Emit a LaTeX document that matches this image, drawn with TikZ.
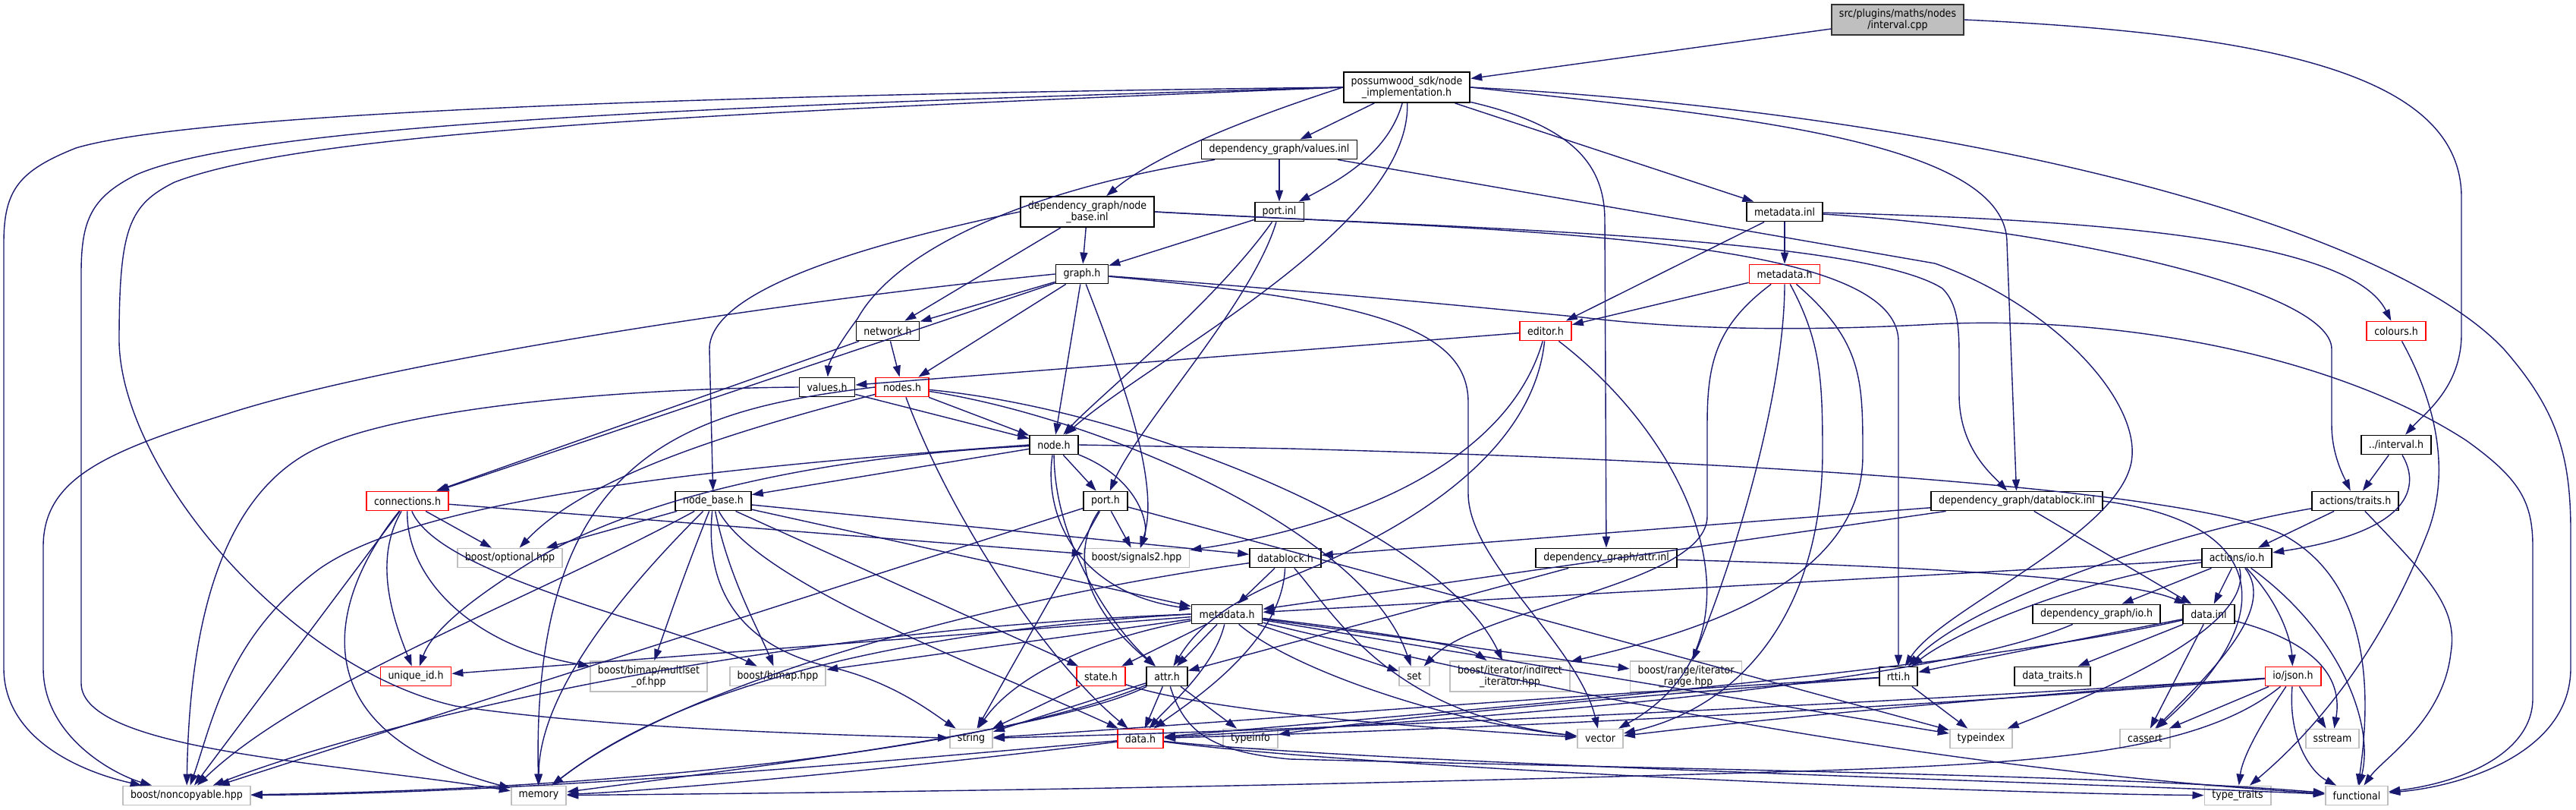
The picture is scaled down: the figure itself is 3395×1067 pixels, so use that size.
\documentclass[tikz,border=0pt]{standalone}
\usepackage{fontspec}
\setmainfont{DejaVu Sans Condensed}
\usepackage{tikz}
\usetikzlibrary{arrows.meta}
\definecolor{edgeblue}{RGB}{25,25,112}
\definecolor{sysgray}{RGB}{191,191,191}
\definecolor{hdrred}{RGB}{255,0,0}
\tikzset{
  file/.style={rectangle, draw=black, fill=white, line width=1.8pt,
    inner xsep=10pt, inner ysep=3pt, minimum height=25pt, align=center,
    font=\fontsize{14}{15}\selectfont},
  redfile/.style={file, draw=hdrred},
  sysfile/.style={file, draw=sysgray},
  rootfile/.style={file, fill=sysgray, draw=black!80},
  tall/.style={minimum height=40pt},
  dep/.style={draw=edgeblue, line width=1.4pt, -{Triangle[length=15pt,width=10pt]}}
}

\begin{document}
\begin{tikzpicture}[x=1pt, y=-1pt]
  \useasboundingbox (0,0) rectangle (3395,1067);

  % Files of the project
  \node[rootfile, tall] (root) at (2501,26) {src/plugins/maths/nodes\\/interval.cpp};
  \node[file, tall] (nimpl) at (1854,115) {possumwood\_sdk/node\\\_implementation.h};
  \node[file] (valinl) at (1686,197) {dependency\_graph/values.inl};
  \node[file, tall] (nbinl) at (1433,279) {dependency\_graph/node\\\_base.inl};
  \node[file] (portinl) at (1686,279) {port.inl};
  \node[file] (mdinl) at (2352,279) {metadata.inl};
  \node[file] (graph) at (1426,361) {graph.h};
  \node[redfile] (mdred) at (2352,361) {metadata.h};
  \node[file] (network) at (1170,436) {network.h};
  \node[redfile] (editor) at (2037,436) {editor.h};
  \node[redfile] (colours) at (3158,436) {colours.h};
  \node[file] (values) at (1090,510) {values.h};
  \node[redfile] (nodes) at (1189,510) {nodes.h};
  \node[file] (node) at (1389,586) {node.h};
  \node[file] (interval) at (3158,586) {../interval.h};
  \node[redfile] (connections) at (537,660) {connections.h};
  \node[file] (nodebase) at (940,660) {node\_base.h};
  \node[file] (port) at (1457,660) {port.h};
  \node[file] (dbinl) at (2658,660) {dependency\_graph/datablock.inl};
  \node[file] (traits) at (3104,660) {actions/traits.h};
  \node[file] (datablock) at (1694,735) {datablock.h};
  \node[file] (attrinl) at (2117,735) {dependency\_graph/attr.inl};
  \node[file] (actio) at (2948,735) {actions/io.h};
  \node[file] (metadata) at (1617,809) {metadata.h};
  \node[file] (dgio) at (2763,809) {dependency\_graph/io.h};
  \node[file] (datainl) at (2911,809) {data.inl};
  \node[redfile] (uniqueid) at (548,891) {unique\_id.h};
  \node[redfile] (state) at (1451,891) {state.h};
  \node[file] (attr) at (1538,891) {attr.h};
  \node[file] (rtti) at (2502,891) {rtti.h};
  \node[file] (datatraits) at (2705,891) {data\_traits.h};
  \node[redfile] (json) at (3022,891) {io/json.h};
  \node[redfile] (data) at (1503,973) {data.h};

  % System and library headers
  \node[sysfile] (optional) at (672,735) {boost/optional.hpp};
  \node[sysfile] (signals) at (1498,735) {boost/signals2.hpp};
  \node[sysfile, tall] (multiset) at (855,891) {boost/bimap/multiset\\\_of.hpp};
  \node[sysfile] (bimap) at (1025,891) {boost/bimap.hpp};
  \node[sysfile] (set) at (1864,891) {set};
  \node[sysfile, tall] (indirect) at (1990,891) {boost/iterator/indirect\\\_iterator.hpp};
  \node[sysfile, tall] (range) at (2222,891) {boost/range/iterator\\\_range.hpp};
  \node[sysfile] (string) at (1280,973) {string};
  \node[sysfile] (typeinfo) at (1648,973) {typeinfo};
  \node[sysfile] (vector) at (2109,973) {vector};
  \node[sysfile] (typeindex) at (2611,973) {typeindex};
  \node[sysfile] (cassert) at (2827,973) {cassert};
  \node[sysfile] (sstream) at (3074,973) {sstream};
  \node[sysfile] (noncopy) at (246,1048) {boost/noncopyable.hpp};
  \node[sysfile] (memory) at (710,1048) {memory};
  \node[sysfile] (typetraits) at (2949,1048) {type\_traits};
  \node[sysfile] (functional) at (3106,1048) {functional};

  % interval.cpp
  \draw[dep] (root) -- (nimpl);
  \draw[dep] (root.east) .. controls (3000,45) and (3244,100) .. (3244,260) -- (3244,440) .. controls (3244,510) and (3195,545) .. (interval);

  % node_implementation.h
  \draw[dep] (nimpl) -- (valinl);
  \draw[dep] (nimpl.west) .. controls (1600,170) and (1510,215) .. (nbinl);
  \draw[dep] (nimpl) .. controls (1830,200) and (1770,235) .. (portinl);
  \draw[dep] (nimpl) .. controls (1860,300) and (1520,470) .. (node);
  \draw[dep] (nimpl) -- (mdinl);
  \draw[dep] (nimpl) .. controls (2070,165) and (2115,215) .. (2115,290) -- (attrinl);
  \draw[dep] (nimpl.east) .. controls (2250,150) and (2645,180) .. (2645,320) -- (dbinl);
  \draw[dep] (nimpl.east) .. controls (2600,150) and (3150,300) .. (3300,460) .. controls (3370,540) and (3388,600) .. (3388,700) -- (3388,880) .. controls (3388,990) and (3250,1035) .. (functional);
  \draw[dep] (nimpl.west) .. controls (900,125) and (250,150) .. (100,195) .. controls (25,225) and (5,250) .. (5,320) -- (5,880) .. controls (5,970) and (100,1015) .. (noncopy);
  \draw[dep] (nimpl.west) .. controls (900,140) and (330,165) .. (180,230) .. controls (120,260) and (107,290) .. (107,360) -- (107,900) .. controls (107,990) and (450,1005) .. (memory);
  \draw[dep] (nimpl.west) .. controls (900,150) and (400,175) .. (230,240) .. controls (170,270) and (157,300) .. (157,450) .. controls (160,620) and (380,880) .. (600,930) .. controls (800,960) and (1100,968) .. (string);

  % values.inl
  \draw[dep] (valinl) -- (portinl);
  \draw[dep] (valinl) .. controls (1350,250) and (1180,330) .. (1130,420) .. controls (1100,460) and (1092,480) .. (values);
  \draw[dep] (valinl) -- (2550,347) .. controls (2700,400) and (2815,520) .. (2810,600) .. controls (2805,700) and (2560,800) .. (rtti);

  % node_base.inl
  \draw[dep] (nbinl) -- (graph);
  \draw[dep] (nbinl) -- (network);
  \draw[dep] (nbinl.west) .. controls (1150,320) and (935,380) .. (935,460) -- (nodebase);
  \draw[dep] (nbinl.east) .. controls (1900,300) and (2450,310) .. (2560,380) .. controls (2580,400) and (2582,430) .. (2582,470) -- (2582,520) .. controls (2582,590) and (2625,625) .. (dbinl);
  \draw[dep] (nbinl.east) .. controls (2000,305) and (2502,310) .. (2502,450) -- (rtti);

  % port.inl
  \draw[dep] (portinl) -- (graph);
  \draw[dep] (portinl) .. controls (1600,400) and (1450,520) .. (node);
  \draw[dep] (portinl) .. controls (1650,400) and (1500,560) .. (port);

  % graph.h
  \draw[dep] (graph) -- (network);
  \draw[dep] (graph) -- (nodes);
  \draw[dep] (graph) -- (node);
  \draw[dep] (graph) -- (connections);
  \draw[dep] (graph) .. controls (1480,500) and (1530,640) .. (signals);
  \draw[dep] (graph.west) .. controls (1000,400) and (500,480) .. (300,545) .. controls (140,595) and (57,630) .. (57,720) -- (57,880) .. controls (57,970) and (150,1020) .. (noncopy);
  \draw[dep] (graph) .. controls (1800,395) and (1935,430) .. (1935,530) -- (1935,650) .. controls (1935,740) and (2080,850) .. (vector);
  \draw[dep] (graph) .. controls (1750,385) and (1950,405) .. (2085,418) .. controls (2200,432) and (2350,438) .. (2550,427) .. controls (2800,415) and (3080,470) .. (3250,580) .. controls (3320,630) and (3338,660) .. (3338,720) -- (3338,920) .. controls (3338,990) and (3250,1030) .. (functional);

  % network.h and values.h
  \draw[dep] (network) -- (nodes);
  \draw[dep] (network) -- (connections);
  \draw[dep] (values) -- (node);
  \draw[dep] (values.west) .. controls (800,512) and (500,540) .. (400,600) .. controls (300,660) and (250,800) .. (noncopy);

  % nodes.h
  \draw[dep] (nodes) -- (node);
  \draw[dep] (nodes) .. controls (1260,700) and (1390,880) .. (data);
  \draw[dep] (nodes) .. controls (1450,550) and (1800,700) .. (set);
  \draw[dep] (nodes) .. controls (1500,540) and (1900,700) .. (indirect);
  \draw[dep] (nodes) .. controls (1000,560) and (780,620) .. (optional);
  \draw[dep] (nodes.west) .. controls (900,540) and (700,600) .. (memory);

  % node.h
  \draw[dep] (node) -- (nodebase);
  \draw[dep] (node) -- (port);
  \draw[dep] (node) .. controls (1500,630) and (1515,690) .. (signals);
  \draw[dep] (node) .. controls (1375,680) and (1420,780) .. (metadata);
  \draw[dep] (node) .. controls (1390,720) and (1470,830) .. (attr);
  \draw[dep] (node.east) -- (1700,591) .. controls (2400,610) and (2900,650) .. (3010,705) .. controls (3110,760) and (3130,880) .. (functional);
  \draw[dep] (node) .. controls (1100,600) and (850,650) .. (700,740) .. controls (620,790) and (570,830) .. (uniqueid);
  \draw[dep] (node.west) .. controls (1000,612) and (560,650) .. (420,750) .. controls (300,840) and (280,950) .. (noncopy);

  % node_base.h
  \draw[dep] (nodebase) -- (optional);
  \draw[dep] (nodebase) -- (datablock);
  \draw[dep] (nodebase) -- (metadata);
  \draw[dep] (nodebase) .. controls (900,760) and (880,820) .. (multiset);
  \draw[dep] (nodebase) .. controls (960,760) and (1000,830) .. (bimap);
  \draw[dep] (nodebase) .. controls (930,760) and (960,850) .. (1100,880) .. controls (1180,900) and (1230,940) .. (string);
  \draw[dep] (nodebase) .. controls (1000,770) and (1300,880) .. (data);
  \draw[dep] (nodebase) -- (state);
  \draw[dep] (nodebase) .. controls (850,750) and (710,900) .. (memory);
  \draw[dep] (nodebase) .. controls (700,790) and (400,900) .. (noncopy);

  % connections.h
  \draw[dep] (connections) -- (optional);
  \draw[dep] (connections) .. controls (490,740) and (520,820) .. (uniqueid);
  \draw[dep] (connections) .. controls (535,760) and (620,850) .. (multiset);
  \draw[dep] (connections) .. controls (580,760) and (880,820) .. (bimap);
  \draw[dep] (connections) -- (noncopy);
  \draw[dep] (connections) .. controls (440,780) and (380,960) .. (memory);
  \draw[dep] (connections) -- (signals);

  % port.h
  \draw[dep] (port) -- (signals);
  \draw[dep] (port) -- (string);
  \draw[dep] (port) .. controls (1410,730) and (1430,800) .. (attr);
  \draw[dep] (port) -- (noncopy);
  \draw[dep] (port) -- (typeindex);

  % datablock.h
  \draw[dep] (datablock) -- (metadata);
  \draw[dep] (datablock) .. controls (1690,850) and (1560,930) .. (data);
  \draw[dep] (datablock) .. controls (1760,810) and (1830,940) .. (vector);
  \draw[dep] (datablock) .. controls (1300,790) and (900,900) .. (memory);

  % metadata.h
  \draw[dep] (metadata) -- (state);
  \draw[dep] (metadata) -- (attr);
  \draw[dep] (metadata) .. controls (1600,880) and (1540,930) .. (data);
  \draw[dep] (metadata) -- (uniqueid);
  \draw[dep] (metadata) -- (bimap);
  \draw[dep] (metadata) .. controls (1420,845) and (1330,900) .. (string);
  \draw[dep] (metadata) -- (set);
  \draw[dep] (metadata) .. controls (1800,830) and (1930,850) .. (indirect);
  \draw[dep] (metadata) -- (range);
  \draw[dep] (metadata) .. controls (1700,880) and (1900,950) .. (vector);
  \draw[dep] (metadata) -- (typeindex);
  \draw[dep] (metadata) .. controls (2000,900) and (2500,1010) .. (functional);
  \draw[dep] (metadata.west) .. controls (1200,830) and (900,900) .. (memory);
  \draw[dep] (metadata.west) .. controls (1000,830) and (500,950) .. (noncopy);

  % state.h, attr.h, data.h
  \draw[dep] (state) -- (string);
  \draw[dep] (state) .. controls (1600,940) and (1900,960) .. (vector);
  \draw[dep] (attr) -- (string);
  \draw[dep] (attr) -- (data);
  \draw[dep] (attr) -- (typeinfo);
  \draw[dep] (attr) .. controls (1560,960) and (1590,990) .. (1700,1000) .. controls (2300,1015) and (2800,1022) .. (functional);
  \draw[dep] (attr) .. controls (1400,960) and (1000,1010) .. (memory);
  \draw[dep] (attr) .. controls (1300,990) and (800,1040) .. (noncopy);
  \draw[dep] (data) .. controls (1200,1000) and (700,1045) .. (noncopy);
  \draw[dep] (data) .. controls (1300,1000) and (900,1040) .. (memory);
  \draw[dep] (data) .. controls (1800,1005) and (2700,1030) .. (functional);
  \draw[dep] (data) .. controls (1800,1012) and (2600,1045) .. (typetraits);

  % attr.inl, datablock.inl
  \draw[dep] (attrinl) -- (attr);
  \draw[dep] (attrinl) .. controls (2500,745) and (2800,760) .. (datainl);
  \draw[dep] (dbinl) -- (datablock);
  \draw[dep] (dbinl) -- (metadata);
  \draw[dep] (dbinl) -- (datainl);
  \draw[dep] (dbinl.east) .. controls (3000,690) and (3000,820) .. (cassert);

  % actions/io.h
  \draw[dep] (actio) -- (dgio);
  \draw[dep] (actio) -- (datainl);
  \draw[dep] (actio) .. controls (3010,800) and (3020,850) .. (json);
  \draw[dep] (actio) .. controls (2970,820) and (2800,900) .. (typeindex);
  \draw[dep] (actio) .. controls (3000,800) and (2920,880) .. (cassert);
  \draw[dep] (actio) .. controls (3080,830) and (3130,950) .. (functional);
  \draw[dep] (actio) .. controls (2750,760) and (2580,830) .. (rtti);
  \draw[dep] (actio) -- (metadata);

  % data.inl, dependency_graph/io.h
  \draw[dep] (datainl) .. controls (2600,880) and (2000,930) .. (data);
  \draw[dep] (datainl) -- (datatraits);
  \draw[dep] (datainl) -- (cassert);
  \draw[dep] (datainl) .. controls (3030,840) and (3090,880) .. (sstream);
  \draw[dep] (datainl) .. controls (2750,840) and (2600,870) .. (rtti);
  \draw[dep] (dgio) .. controls (2550,900) and (2000,945) .. (data);

  % io/json.h
  \draw[dep] (json) .. controls (2500,925) and (1800,960) .. (string);
  \draw[dep] (json) .. controls (2500,935) and (1900,962) .. (data);
  \draw[dep] (json) -- (cassert);
  \draw[dep] (json) -- (sstream);
  \draw[dep] (json) .. controls (2975,960) and (2955,1000) .. (typetraits);
  \draw[dep] (json) .. controls (3015,980) and (3050,1020) .. (functional);
  \draw[dep] (json) .. controls (2900,990) and (2700,1005) .. (2400,1015) .. controls (1600,1040) and (1000,1045) .. (memory);
  \draw[dep] (json) .. controls (2600,920) and (2300,950) .. (vector);

  % rtti.h
  \draw[dep] (rtti) -- (typeindex);
  \draw[dep] (rtti) .. controls (2000,920) and (1500,960) .. (string);
  \draw[dep] (rtti) .. controls (2100,920) and (1800,950) .. (typeinfo);

  % actions/traits.h, ../interval.h, colours.h
  \draw[dep] (traits) -- (actio);
  \draw[dep] (traits) .. controls (2870,700) and (2600,790) .. (rtti);
  \draw[dep] (traits) .. controls (3200,760) and (3240,800) .. (3230,860) .. controls (3220,950) and (3140,1000) .. (functional);
  \draw[dep] (interval) -- (traits);
  \draw[dep] (interval) .. controls (3190,640) and (3180,700) .. (actio);
  \draw[dep] (colours) .. controls (3210,530) and (3230,620) .. (3200,700) .. controls (3130,880) and (3030,980) .. (typetraits);

  % metadata.inl
  \draw[dep] (mdinl) -- (mdred);
  \draw[dep] (mdinl) -- (editor);
  \draw[dep] (mdinl) .. controls (2800,290) and (3100,320) .. (colours);
  \draw[dep] (mdinl) .. controls (2700,300) and (3073,380) .. (3073,460) -- (3073,560) .. controls (3073,600) and (3090,630) .. (traits);

  % metadata.h (editor side)
  \draw[dep] (mdred) -- (editor);
  \draw[dep] (mdred) .. controls (2260,430) and (2250,480) .. (2250,560) -- (2250,680) .. controls (2250,770) and (1950,800) .. (set);
  \draw[dep] (mdred) .. controls (2352,500) and (2300,700) .. (range);
  \draw[dep] (mdred) .. controls (2400,450) and (2402,500) .. (2402,600) .. controls (2400,800) and (2300,930) .. (vector);
  \draw[dep] (mdred) .. controls (2455,450) and (2455,500) .. (2455,600) .. controls (2455,780) and (2200,840) .. (indirect);

  % editor.h
  \draw[dep] (editor) -- (values);
  \draw[dep] (editor) .. controls (1990,600) and (1800,690) .. (signals);
  \draw[dep] (editor) .. controls (2020,600) and (1850,700) .. (1700,760) .. controls (1600,800) and (1570,840) .. (attr);
  \draw[dep] (editor) .. controls (2250,600) and (2330,850) .. (vector);
\end{tikzpicture}
\end{document}
